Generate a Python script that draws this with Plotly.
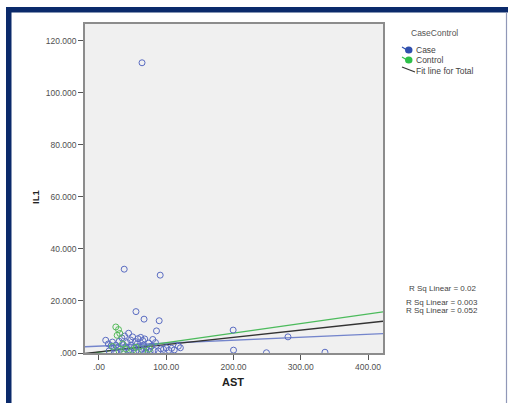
import plotly.graph_objects as go

# ---------------- data ----------------
case_ast = [64, 37.5, 91, 55, 67, 89.5, 85.5, 199.5, 200, 249, 281, 336,
            10, 14, 18, 20, 22, 25, 28, 30, 32, 34, 36, 38, 40, 42, 44, 45, 47, 48,
            50, 52, 54, 55, 57, 58, 60, 62, 63, 65, 66, 68, 70, 72, 74, 76, 78, 80,
            82, 84, 88, 92, 96, 100, 104, 108, 112, 118, 121, 15, 25, 35, 45, 60, 70]
case_il1 = [111.5, 32.2, 29.9, 15.9, 13.0, 12.4, 8.5, 8.8, 1.1, 0.1, 6.2, 0.3,
            4.9, 3.5, 2.8, 4.2, 1.8, 3.0, 2.2, 4.5, 1.5, 5.8, 3.2, 6.5, 2.4, 4.0, 7.6, 1.2, 5.0, 3.0,
            6.2, 2.0, 4.4, 0.8, 3.6, 5.5, 2.5, 6.0, 1.5, 4.8, 3.0, 5.4, 2.0, 1.0, 3.8, 0.6, 2.6, 5.2,
            1.0, 4.0, 0.8, 1.6, 1.4, 2.0, 1.0, 1.8, 1.2, 2.6, 2.0, 0.8, 0.5, 0.4, 0.3, 0.6, 0.3]
control_ast = [25, 29, 31, 27, 35, 40, 50, 55, 65, 75, 20, 30]
control_il1 = [10.0, 9.0, 7.5, 6.8, 3.5, 1.5, 1.0, 2.2, 0.8, 1.5, 2.5, 0.6]

# fit lines: (intercept, slope)
fit_names = ["Case", "Control", "Total"]
fit_intercepts = [2.64, 0.3, 0.46]
fit_slopes = [0.0113, 0.0368, 0.0278]
r2_labels = ["R Sq Linear = 0.02", "R Sq Linear = 0.003", "R Sq Linear = 0.052"]

legend_title = "CaseControl"
legend_labels = ["Case", "Control", "Fit line for Total"]

x_tickvals = [0, 100, 200, 300, 400]
x_ticktext = [".00", "100.00", "200.00", "300.00", "400.00"]
y_tickvals = [0, 20, 40, 60, 80, 100, 120]
y_ticktext = [".000", "20.000", "40.000", "60.000", "80.000", "100.000", "120.000"]

X_RANGE = [-20.8, 422.3]
Y_RANGE = [0, 126.4]

# ---------------- layout helpers ----------------
W, H = 508, 403
L, R, T, B = 85, 383, 24, 353


def px_x(p):
    return (p - L) / (R - L)


def px_y(p):
    return (B - p) / (B - T)


BLUE = "#5a6cc2"
GREEN = "#55bb5a"
FIT_COLORS = ["#7485cc", "#4cbb5c", "#333333"]
FONT = "Liberation Sans, Arial"

fig = go.Figure()

# fit lines
for name, b0, b1, col in zip(fit_names, fit_intercepts, fit_slopes, FIT_COLORS):
    xs = X_RANGE
    ys = [b0 + b1 * v for v in xs]
    fig.add_trace(go.Scatter(x=xs, y=ys, mode="lines", name="Fit " + name,
                             line=dict(color=col, width=1.3), showlegend=False,
                             hoverinfo="skip"))

fig.add_trace(go.Scatter(x=case_ast, y=case_il1, mode="markers", name="Case",
                         marker=dict(symbol="circle-open", size=6, color=BLUE,
                                     line=dict(width=1, color=BLUE)),
                         showlegend=False))
fig.add_trace(go.Scatter(x=control_ast, y=control_il1, mode="markers", name="Control",
                         marker=dict(symbol="circle-open", size=6, color=GREEN,
                                     line=dict(width=1, color=GREEN)),
                         showlegend=False))

tickfont = dict(family=FONT, size=8.5, color="#505050")
axis_common = dict(showgrid=False, zeroline=False, showline=True, mirror=True,
                   linecolor="#8c8c8c", linewidth=1.5, ticks="outside", ticklen=5,
                   tickcolor="#555555", tickfont=tickfont, fixedrange=True)
fig.update_xaxes(range=X_RANGE, tickvals=x_tickvals, ticktext=x_ticktext, **axis_common)
fig.update_yaxes(range=Y_RANGE, tickvals=y_tickvals, ticktext=y_ticktext, **axis_common)

shapes = [
    # navy frame: top bar, left bar, thin right edge
    dict(type="rect", xref="paper", yref="paper", x0=px_x(6), x1=px_x(510),
         y0=px_y(7), y1=px_y(12.5), fillcolor="#0b2a6b", line=dict(width=0), layer="above"),
    dict(type="rect", xref="paper", yref="paper", x0=px_x(6), x1=px_x(11.5),
         y0=px_y(7), y1=px_y(405), fillcolor="#0b2a6b", line=dict(width=0), layer="above"),
    dict(type="line", xref="paper", yref="paper", x0=px_x(506.5), x1=px_x(506.5),
         y0=px_y(12), y1=px_y(405), line=dict(color="#9098b8", width=1.2)),
    # legend line sample for "Fit line for Total"
    dict(type="line", xref="paper", yref="paper", x0=px_x(402), x1=px_x(415),
         y0=px_y(67), y1=px_y(72), line=dict(color="#333333", width=1.2)),
]

annotations = []
legfont = dict(family=FONT, size=8.5, color="#444444")
annotations.append(dict(text=legend_title, x=px_x(434), y=px_y(33), xref="paper", yref="paper",
                        showarrow=False, xanchor="center", yanchor="middle",
                        font=dict(family=FONT, size=8.5, color="#555555")))
marker_fill = {"Case": "#2f4fae", "Control": "#2ec04a"}
for label, yy in zip(legend_labels[:2], [50, 60]):
    shapes.append(dict(type="line", xref="paper", yref="paper",
                       x0=px_x(402), x1=px_x(407), y0=px_y(yy - 3), y1=px_y(yy),
                       line=dict(color=marker_fill[label], width=1.2)))
    shapes.append(dict(type="circle", xref="paper", yref="paper",
                       x0=px_x(405), x1=px_x(412.5), y0=px_y(yy - 3.5), y1=px_y(yy + 3.5),
                       fillcolor=marker_fill[label], line=dict(width=0)))
    annotations.append(dict(text=label, x=px_x(414), y=px_y(yy), xref="paper", yref="paper",
                            showarrow=False, xanchor="left", yanchor="middle", font=legfont))
annotations.append(dict(text=legend_labels[2], x=px_x(414), y=px_y(70.5), xref="paper", yref="paper",
                        showarrow=False, xanchor="left", yanchor="middle", font=legfont))

# R squared texts
for txt, yy in zip(r2_labels, [288, 302, 310]):
    annotations.append(dict(text=txt, x=px_x(442), y=px_y(yy), xref="paper", yref="paper",
                            showarrow=False, xanchor="center", yanchor="middle",
                            font=dict(family=FONT, size=8, color="#444444")))

# axis titles
annotations.append(dict(text="<b>IL1</b>", x=px_x(35), y=px_y(197), xref="paper", yref="paper",
                        showarrow=False, textangle=-90, xanchor="center", yanchor="middle",
                        font=dict(family=FONT, size=9.5, color="#222222")))
annotations.append(dict(text="<b>AST</b>", x=px_x(233), y=px_y(382), xref="paper", yref="paper",
                        showarrow=False, xanchor="center", yanchor="middle",
                        font=dict(family=FONT, size=11, color="#222222")))

fig.update_layout(width=W, height=H, margin=dict(l=L, r=W - R, t=T, b=H - B),
                  paper_bgcolor="white", plot_bgcolor="#f0f0f0",
                  shapes=shapes, annotations=annotations, showlegend=False)

fig.write_html("out.html", config={"displayModeBar": False})
